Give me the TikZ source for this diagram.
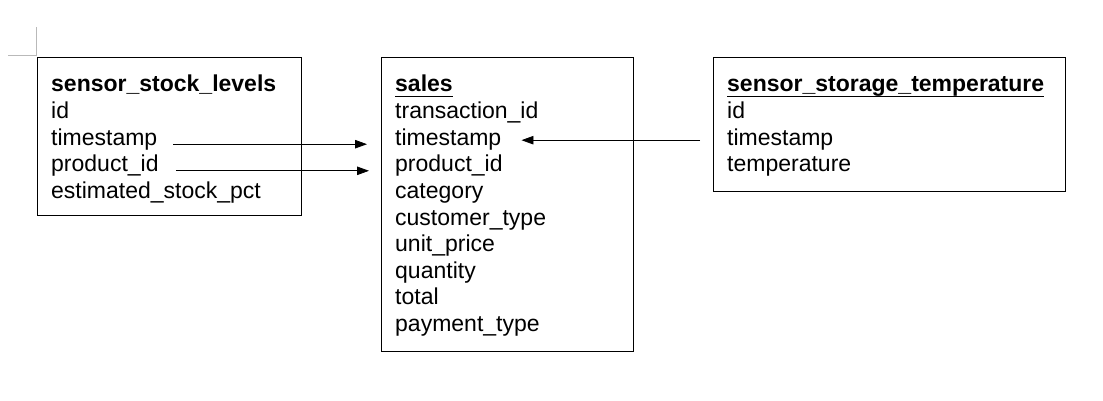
\documentclass[tikz,border=0pt]{standalone}
\usepackage{fontspec}
\setmainfont{Liberation Sans}
\usetikzlibrary{arrows.meta}
\newcommand\ulbold[1]{\setbox0\hbox{\textbf{#1}}\rlap{\rule[-5.5pt]{\wd0}{1.8pt}}\box0}
\tikzset{
    tbl/.style={draw, line width=1pt, anchor=north west, inner sep=0pt},
    fld/.style={anchor=base west, inner sep=0pt, font=\fontsize{23}{26}\selectfont},
}
\begin{document}
\begin{tikzpicture}[x=1pt, y=-1pt, >={Stealth[length=12pt, width=8.5pt, inset=0pt]}]
\useasboundingbox (0,0) rectangle (1103,401);
\draw[gray!55, line width=1pt](8,56)--(36,56)--(36,27);

\node[tbl, minimum width=264pt, minimum height=158pt](ssl) at (37,57){};
\node[tbl, minimum width=252pt, minimum height=294pt](sales) at (381,57){};
\node[tbl, minimum width=352pt, minimum height=134pt](sst) at (713,57){};

\foreach \t [count=\i from 0] in {\textbf{sensor\_stock\_levels}, id, timestamp, product\_id, estimated\_stock\_pct}
{
    \node[fld](ssl-\i) at (51,92+26.6*\i){\t};
}
\foreach \t [count=\i from 0] in {\ulbold{sales}, transaction\_id, timestamp, product\_id, category, customer\_type, unit\_price, quantity, total, payment\_type}
{
    \node[fld](sales-\i) at (395,92+26.6*\i){\t};
}
\foreach \t [count=\i from 0] in {\ulbold{sensor\_storage\_temperature}, id, timestamp, temperature}
{
    \node[fld](sst-\i) at (727,92+26.6*\i){\t};
}

\draw[->, line width=0.8pt, shorten <=16pt, shorten >=28pt]([yshift=1pt]ssl-2.base east)--([yshift=1pt]sales-2.base west);
\draw[->, line width=0.8pt, shorten <=17pt, shorten >=26pt]([yshift=1pt]ssl-3.base east)--([yshift=1pt]sales-3.base west);
\draw[->, line width=0.8pt, shorten <=27pt, shorten >=20pt]([yshift=5pt]sst-2.base west)--([yshift=5pt]sales-2.base east);
\end{tikzpicture}
\end{document}
